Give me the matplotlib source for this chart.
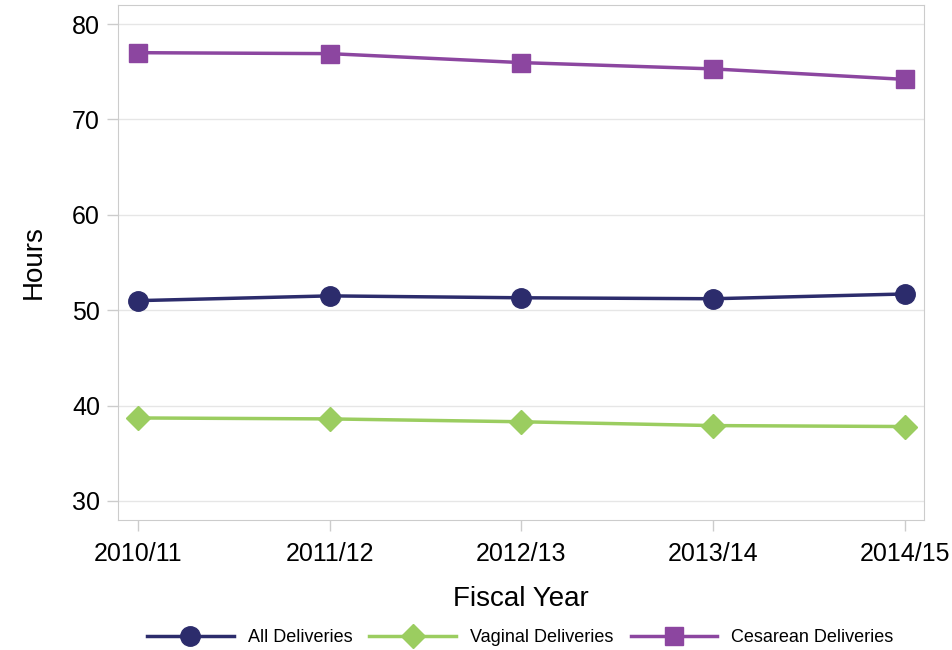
import matplotlib
matplotlib.use("Agg")
import matplotlib.pyplot as plt
from matplotlib.lines import Line2D

plt.rcParams['font.family'] = ['Liberation Sans', 'DejaVu Sans']

years = ["2010/11", "2011/12", "2012/13", "2013/14", "2014/15"]
all_deliveries = [51.0, 51.5, 51.3, 51.2, 51.7]
vaginal = [38.7, 38.6, 38.3, 37.9, 37.8]
cesarean = [77.0, 76.9, 75.96, 75.3, 74.2]
yticks = [30, 40, 50, 60, 70, 80]

fig = plt.figure(figsize=(9.53, 6.5), dpi=100)
ax = fig.add_axes([118/953, 1-520/650, (924-118)/953, (520-5)/650])

x = list(range(len(years)))
c_all = "#2C2C6C"
c_vag = "#9BCD60"
c_ces = "#8C46A0"
ax.plot(x, all_deliveries, color=c_all, lw=2.5, marker='o', ms=14, label="All Deliveries", zorder=3)
ax.plot(x, vaginal, color=c_vag, lw=2.5, marker='D', ms=12, label="Vaginal Deliveries", zorder=3)
ax.plot(x, cesarean, color=c_ces, lw=2.5, marker='s', ms=13, label="Cesarean Deliveries", zorder=3)

ax.set_xlim(-0.104, 4.1)
ax.set_ylim(28, 82)
ax.set_xticks(x)
ax.set_xticklabels(years)
ax.set_yticks(yticks)
ax.grid(axis='y', color='#E6E6E6', lw=1)
ax.set_axisbelow(True)
for s in ax.spines.values():
    s.set_color('#CCCCCC')
ax.tick_params(axis='both', colors='#CCCCCC', labelcolor='black', labelsize=18, length=8, width=1)
ax.tick_params(axis='x', pad=8)
ax.tick_params(axis='y', pad=5)
ax.set_xlabel("Fiscal Year", fontsize=20, labelpad=14)
ax.set_ylabel("Hours", fontsize=20, labelpad=18)

handles = [Line2D([0], [0], color=c_all, lw=2.5, marker='o', ms=14),
           Line2D([0], [0], color=c_vag, lw=2.5, marker='D', ms=12),
           Line2D([0], [0], color=c_ces, lw=2.5, marker='s', ms=13)]
fig.legend(handles, ["All Deliveries", "Vaginal Deliveries", "Cesarean Deliveries"],
           loc='center', bbox_to_anchor=(0.546, 1-638/650), ncol=3, frameon=False,
           fontsize=13, handlelength=4.8, handletextpad=0.78, columnspacing=0.95)

fig.savefig("out.png", dpi=100)
